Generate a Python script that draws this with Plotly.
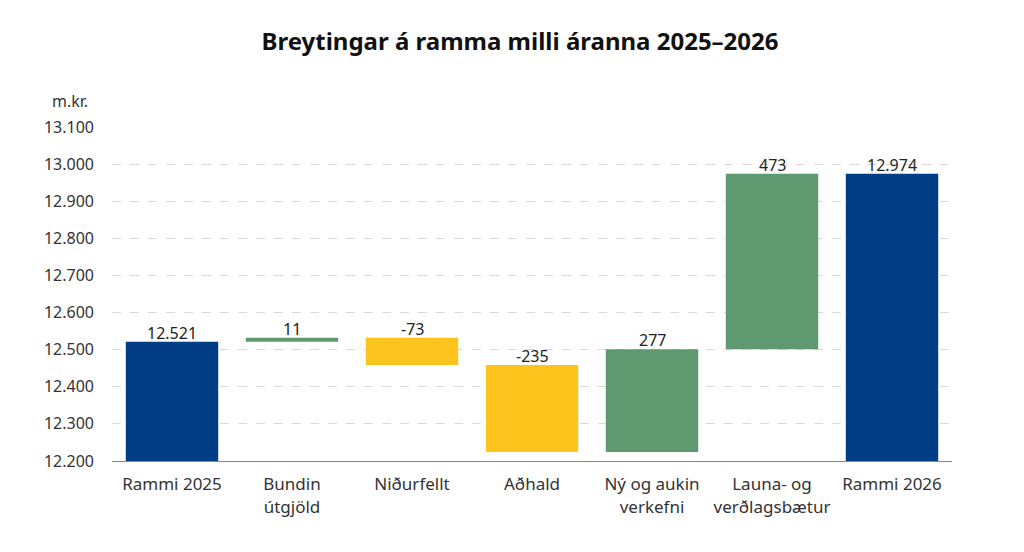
import plotly.graph_objects as go

categories = ["Rammi 2025", "Bundin<br>útgjöld", "Niðurfellt", "Aðhald",
              "Ný og aukin<br>verkefni", "Launa- og<br>verðlagsbætur", "Rammi 2026"]
values = [12521, 11, -73, -235, 277, 473, 12974]
kinds = ["total", "delta", "delta", "delta", "delta", "delta", "total"]

BLUE = "#003d85"
GREEN = "#5f996f"
YELLOW = "#fcc41c"

bases, heights, colors, tops = [], [], [], []
running = 0
for v, k in zip(values, kinds):
    if k == "total":
        bases.append(0)
        heights.append(v)
        colors.append(BLUE)
        tops.append(v)
        running = v
    else:
        start = running
        end = running + v
        bases.append(min(start, end))
        heights.append(abs(v))
        colors.append(GREEN if v >= 0 else YELLOW)
        tops.append(max(start, end))
        running = end


def fmt(v):
    return f"{v:,}".replace(",", ".")


fig = go.Figure()
fig.add_trace(go.Bar(
    x=categories, y=heights, base=bases,
    marker=dict(color=colors, line=dict(width=0)),
    hoverinfo="skip", showlegend=False,
))

for c, v, t in zip(categories, values, tops):
    fig.add_annotation(x=c, y=t, text=fmt(v), showarrow=False,
                       yanchor="bottom", yshift=-4,
                       font=dict(size=16, color="#222222", family="Noto Sans"))

fig.add_annotation(xref="paper", yref="paper", x=-0.05, y=1.078,
                   text="m.kr.", showarrow=False, xanchor="center", yanchor="middle",
                   font=dict(size=16, color="#333333", family="Noto Sans"))

fig.update_layout(
    width=1024, height=552,
    paper_bgcolor="white", plot_bgcolor="white",
    separators=",.",
    margin=dict(l=104, r=80, t=119, b=99),
    bargap=0.23,
    title=dict(text="<b>Breytingar á ramma milli áranna 2025–2026</b>",
               x=0.5, xanchor="center", y=1 - 34 / 552, yanchor="middle",
               yref="container",
               font=dict(size=24, color="#111111", family="Noto Sans")),
    font=dict(family="Noto Sans", size=16, color="#333333"),
)
fig.update_yaxes(range=[12200, 13100], dtick=100, tickformat=",d",
                 showgrid=True, gridcolor="#d9d9d9", griddash="dash", gridwidth=1,
                 zeroline=False, showline=False, ticks="",
                 ticklabelstandoff=17,
                 tickfont=dict(size=16, color="#333333"))
fig.update_xaxes(showline=True, linecolor="#888888", linewidth=1, ticks="",
                 ticklabelstandoff=8,
                 tickfont=dict(size=17, color="#333333"))

fig.write_html("out.html")
